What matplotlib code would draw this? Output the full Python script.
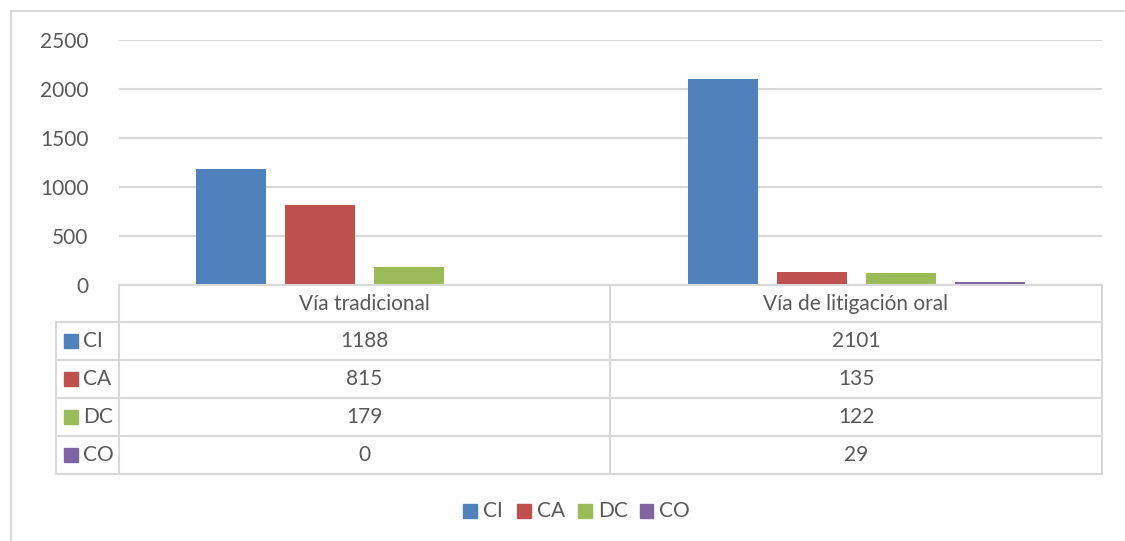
import matplotlib
matplotlib.use("Agg")
import matplotlib.pyplot as plt
from matplotlib.patches import Rectangle
from matplotlib.lines import Line2D

categories = ["Vía tradicional", "Vía de litigación oral"]
series = ["CI", "CA", "DC", "CO"]
values = {
    "CI": [1188, 2101],
    "CA": [815, 135],
    "DC": [179, 122],
    "CO": [0, 29],
}
colors = {"CI": "#4F81BD", "CA": "#C0504D", "DC": "#9BBB59", "CO": "#8064A2"}
yticks = [0, 500, 1000, 1500, 2000, 2500]

W, H = 1125, 541
plt.rcParams['font.family'] = ['Lato', 'DejaVu Sans']
TXT = "#595959"
GRID = "#D9D9D9"
FS = 15

fig = plt.figure(figsize=(W / 100, H / 100), dpi=100)
fig.patch.set_facecolor("white")

def fx(x):
    return x / W

def fy(y):
    return 1 - y / H

# plot area
x0, x1, ytop, ybot = 119, 1102, 40, 285
ax = fig.add_axes([fx(x0), fy(ybot), fx(x1) - fx(x0), fy(ytop) - fy(ybot)])
ax.set_xlim(-0.5, 1.5)
ax.set_ylim(0, 2500)
ax.set_yticks(yticks)
ax.set_yticklabels([str(t) for t in yticks], fontsize=FS, color=TXT)
ax.tick_params(axis='y', length=0, pad=22)
ax.set_xticks([])
for s in ax.spines.values():
    s.set_visible(False)
ax.grid(axis='y', color=GRID, linewidth=1.5)
ax.set_axisbelow(True)

bw = 0.1424
step = 0.181
for i, s in enumerate(series):
    xs = [c + (i - 1.5) * step for c in range(len(categories))]
    vals = values[s]
    ax.bar(xs, vals, width=bw, color=colors[s], zorder=3)

# table
def hline(y, xa, xb):
    fig.add_artist(Line2D([fx(xa), fx(xb)], [fy(y), fy(y)], color=GRID, lw=1.5,
                          transform=fig.transFigure))

def vline(x, ya, yb):
    fig.add_artist(Line2D([fx(x), fx(x)], [fy(ya), fy(yb)], color=GRID, lw=1.5,
                          transform=fig.transFigure))

row_edges = [285, 322, 360, 398, 436, 474]
col_left, col_a, col_mid, col_b = 56, 119, 610, 1102
hline(row_edges[0], col_a, col_b)
for y in row_edges[1:]:
    hline(y, col_left, col_b)
vline(col_a, row_edges[0], row_edges[-1])
vline(col_mid, row_edges[0], row_edges[-1])
vline(col_b, row_edges[0], row_edges[-1])
vline(col_left, row_edges[1], row_edges[-1])

centers = [(col_a + col_mid) / 2, (col_mid + col_b) / 2]
hy = (row_edges[0] + row_edges[1]) / 2
for c, cat in zip(centers, categories):
    fig.text(fx(c), fy(hy), cat, ha='center', va='center', fontsize=FS, color=TXT)

for r, s in enumerate(series):
    ya, yb = row_edges[r + 1], row_edges[r + 2]
    yc = (ya + yb) / 2
    fig.add_artist(Rectangle((fx(64), fy(yc + 6.5)), fx(13.5), fy(0) - fy(13.5),
                             color=colors[s], transform=fig.transFigure))
    fig.text(fx(83), fy(yc), s, ha='left', va='center', fontsize=FS, color=TXT)
    for c, v in zip(centers, values[s]):
        fig.text(fx(c), fy(yc), str(v), ha='center', va='center', fontsize=FS, color=TXT)

# legend
leg_x = [463, 517, 578, 639.5]
ly = 511
for s, lx in zip(series, leg_x):
    fig.add_artist(Rectangle((fx(lx), fy(ly + 6.5)), fx(13.5), fy(0) - fy(13.5),
                             color=colors[s], transform=fig.transFigure))
    fig.text(fx(lx + 20), fy(ly), s, ha='left', va='center', fontsize=FS, color=TXT)

# chart border (top and left visible)
fig.add_artist(Line2D([fx(10.5), 1], [fy(10.5), fy(10.5)], color=GRID, lw=1.5,
                      transform=fig.transFigure))
fig.add_artist(Line2D([fx(10.5), fx(10.5)], [fy(10.5), 0], color=GRID, lw=1.5,
                      transform=fig.transFigure))

fig.savefig("out.png", dpi=100, facecolor="white")
